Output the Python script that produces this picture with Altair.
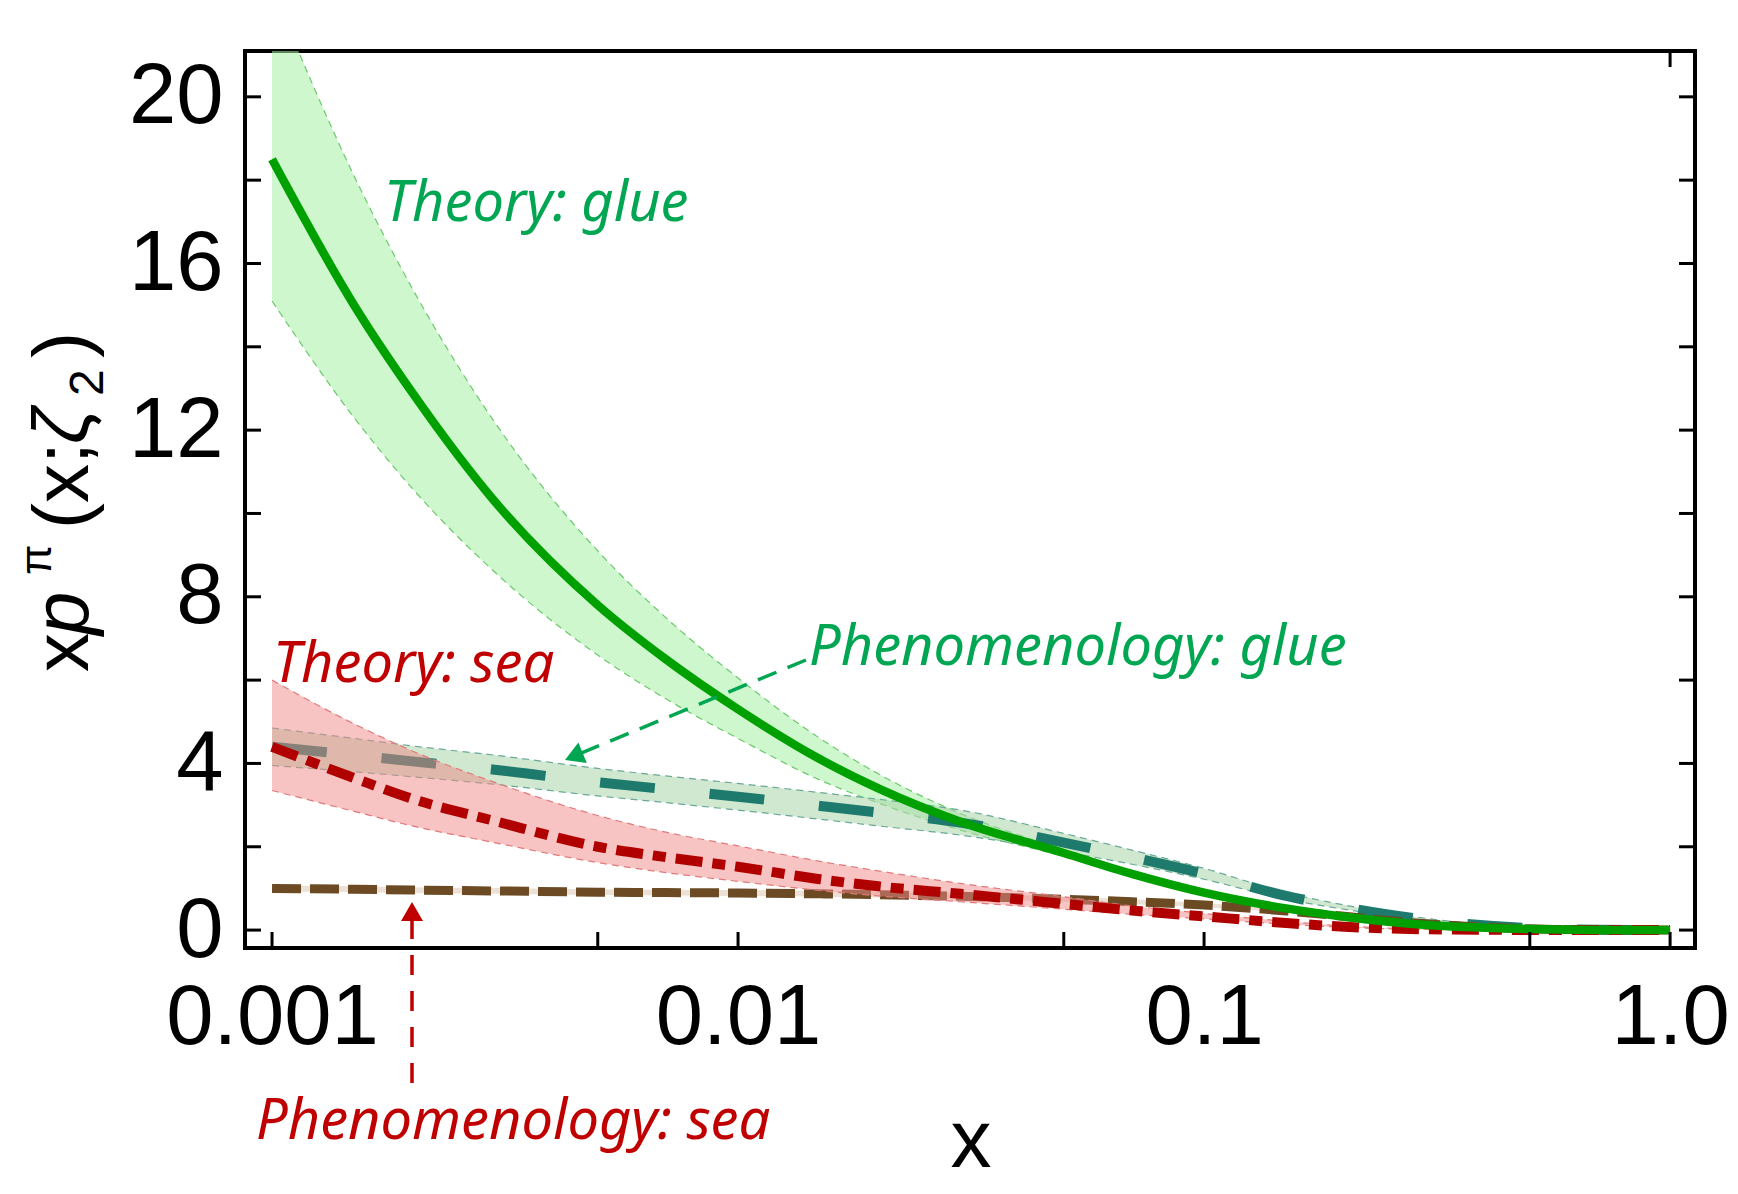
import altair as alt
import pandas as pd

# ---------------- data ----------------
x_grid = [0.001, 0.0015, 0.002, 0.003, 0.005, 0.007, 0.01, 0.015, 0.02, 0.03,
          0.05, 0.07, 0.1, 0.15, 0.2, 0.3, 0.5, 0.7, 1.0]

theory_glue = [18.5, 15.0, 12.9, 10.3, 7.8, 6.5, 5.3, 4.1, 3.4, 2.6,
               1.85, 1.35, 0.9, 0.52, 0.32, 0.12, 0.025, 0.004, 0.0]
theory_glue_hi = [22.6, 18.1, 15.4, 12.2, 9.1, 7.5, 6.05, 4.6, 3.75, 2.8,
                  1.93, 1.41, 0.95, 0.55, 0.34, 0.13, 0.027, 0.005, 0.0]
theory_glue_lo = [15.1, 12.3, 10.6, 8.6, 6.6, 5.55, 4.6, 3.6, 3.05, 2.4,
                  1.77, 1.29, 0.86, 0.49, 0.30, 0.11, 0.023, 0.003, 0.0]

pheno_glue = [4.4, 4.2, 4.05, 3.85, 3.55, 3.38, 3.2, 2.98, 2.82, 2.58,
              2.1, 1.75, 1.35, 0.82, 0.55, 0.25, 0.05, 0.01, 0.0]
pheno_glue_hi = [4.85, 4.6, 4.42, 4.2, 3.88, 3.7, 3.52, 3.3, 3.14, 2.88,
                 2.32, 1.92, 1.48, 0.9, 0.6, 0.28, 0.06, 0.012, 0.0]
pheno_glue_lo = [3.95, 3.8, 3.68, 3.5, 3.22, 3.06, 2.88, 2.66, 2.5, 2.28,
                 1.88, 1.58, 1.22, 0.74, 0.5, 0.22, 0.04, 0.008, 0.0]

theory_sea = [4.4, 3.65, 3.15, 2.62, 2.0, 1.75, 1.52, 1.22, 1.05, 0.87,
              0.63, 0.47, 0.33, 0.17, 0.08, 0.02, 0.003, 0.0, 0.0]
theory_sea_hi = [6.0, 4.95, 4.3, 3.55, 2.75, 2.35, 2.02, 1.65, 1.42, 1.12,
                 0.8, 0.58, 0.4, 0.21, 0.1, 0.025, 0.004, 0.0, 0.0]
theory_sea_lo = [3.35, 2.85, 2.5, 2.1, 1.62, 1.38, 1.17, 0.95, 0.82, 0.68,
                 0.5, 0.38, 0.27, 0.14, 0.065, 0.015, 0.002, 0.0, 0.0]

pheno_sea = [1.0, 0.98, 0.96, 0.94, 0.91, 0.9, 0.89, 0.87, 0.85, 0.81,
             0.74, 0.68, 0.6, 0.46, 0.33, 0.15, 0.03, 0.005, 0.0]
pheno_sea_hi = [1.07, 1.05, 1.03, 1.01, 0.98, 0.97, 0.96, 0.94, 0.92, 0.88,
                0.8, 0.74, 0.65, 0.5, 0.36, 0.17, 0.035, 0.006, 0.0]
pheno_sea_lo = [0.93, 0.91, 0.89, 0.87, 0.84, 0.83, 0.82, 0.8, 0.78, 0.74,
                0.68, 0.62, 0.55, 0.42, 0.3, 0.13, 0.025, 0.004, 0.0]

x_tick_bottom = [0.001, 0.005, 0.01, 0.05, 0.1, 0.5, 1.0]
x_tick_top = [1.0]
y_ticks = [0, 2, 4, 6, 8, 10, 12, 14, 16, 18, 20]
x_label_values = [0.001, 0.01, 0.1, 1.0]
y_label_values = [0, 4, 8, 12, 16, 20]


def frame(y, lo, hi):
    return pd.DataFrame({"x": x_grid, "y": y, "lo": lo, "hi": hi})


df_tg = frame(theory_glue, theory_glue_lo, theory_glue_hi)
df_pg = frame(pheno_glue, pheno_glue_lo, pheno_glue_hi)
df_ts = frame(theory_sea, theory_sea_lo, theory_sea_hi)
df_ps = frame(pheno_sea, pheno_sea_lo, pheno_sea_hi)

# ---------------- scales / axes ----------------
W, H = 1450, 897
FONT = "Liberation Sans"
ANN_FONT = "Noto Sans"

xscale = alt.Scale(type="log", domain=[0.000875, 1.131], nice=False)
yscale = alt.Scale(domain=[-0.43, 21.1], nice=False, zero=False)

xaxis = alt.Axis(values=x_label_values, format="~g",
                 labelExpr="datum.value >= 1 ? '1.0' : datum.label",
                 title=None, grid=False, ticks=False, tickSize=0, domain=False,
                 labelFont=FONT, labelFontSize=85, labelColor="black",
                 labelPadding=28, labelOverlap=False, labelBound=False,
                 labelFlush=False, labelLimit=0)
yaxis = alt.Axis(values=y_label_values, title=None, grid=False, ticks=False,
                 tickSize=0, domain=False, labelFont=FONT, labelFontSize=85,
                 labelColor="black", labelPadding=22, labelOverlap=False,
                 labelBound=False, labelFlush=False, labelLimit=0)


def X(f):
    return alt.X(f"{f}:Q", scale=xscale, axis=xaxis)


def Y(f):
    return alt.Y(f"{f}:Q", scale=yscale, axis=yaxis)


def band(df, fill, alpha, edge):
    area = alt.Chart(df).mark_area(color=fill, opacity=alpha,
                                   clip=True, interpolate="monotone").encode(
        x=X("x"), y=Y("lo"), y2=alt.Y2("hi"))
    e1 = alt.Chart(df).mark_line(color=edge, strokeWidth=1.2, strokeDash=[7, 5],
                                 clip=True, interpolate="monotone").encode(
        x=X("x"), y=Y("hi"))
    e2 = alt.Chart(df).mark_line(color=edge, strokeWidth=1.2, strokeDash=[7, 5],
                                 clip=True, interpolate="monotone").encode(
        x=X("x"), y=Y("lo"))
    return [area, e1, e2]


def curve(df, color, width, dash=None):
    kw = dict(color=color, strokeWidth=width, clip=True,
              interpolate="monotone", strokeCap="butt")
    if dash:
        kw["strokeDash"] = dash
    return alt.Chart(df).mark_line(**kw).encode(x=X("x"), y=Y("y"))


layers = []
layers += band(df_tg, "#a5f0a5", 0.55, "#6cc86c")
layers += band(df_pg, "#a8d6a8", 0.55, "#6aa898")
layers.append(alt.Chart(df_ps).mark_area(color="#d9c4ad", opacity=0.5,
                                         clip=True, interpolate="monotone").encode(
    x=X("x"), y=Y("lo"), y2=alt.Y2("hi")))
layers.append(curve(df_pg, "#1d7a6c", 10, [55, 55]))
layers.append(curve(df_ps, "#6b4a24", 9, [29, 9]))
layers += band(df_ts, "#f28888", 0.5, "#e07a7a")
layers.append(curve(df_ts, "#b00000", 10, [27, 10, 13, 10]))
layers.append(curve(df_tg, "#00a000", 8.5))

# ---------------- inward ticks ----------------
tb = pd.DataFrame({"t": x_tick_bottom})
tt = pd.DataFrame({"t": x_tick_top})
ty = pd.DataFrame({"t": y_ticks})
TL = 16
layers.append(alt.Chart(tb).mark_rule(color="black", strokeWidth=3).encode(
    x=X("t"), y=alt.value(H - TL), y2=alt.value(H)))
layers.append(alt.Chart(tt).mark_rule(color="black", strokeWidth=3).encode(
    x=X("t"), y=alt.value(0), y2=alt.value(TL)))
layers.append(alt.Chart(ty).mark_rule(color="black", strokeWidth=3).encode(
    y=Y("t"), x=alt.value(0), x2=alt.value(TL)))
layers.append(alt.Chart(ty).mark_rule(color="black", strokeWidth=3).encode(
    y=Y("t"), x=alt.value(W - TL), x2=alt.value(W)))


# ---------------- texts ----------------
def text(label, x, y, size, color="black", style="normal", font=FONT,
         angle=0, align="left"):
    d = pd.DataFrame({"label": [label]})
    return alt.Chart(d).mark_text(align=align, baseline="alphabetic",
                                  font=font, fontSize=size, fontStyle=style,
                                  color=color, angle=angle).encode(
        x=alt.value(x), y=alt.value(y), text=alt.Text("label:N"))


GREEN_T = "#00a651"
RED_T = "#c00000"
layers.append(text("Theory: glue", 139, 170, 56, GREEN_T, "italic", ANN_FONT))
layers.append(text("Theory: sea", 28, 631, 56, RED_T, "italic", ANN_FONT))
layers.append(text("Phenomenology: glue", 564, 614, 56, GREEN_T, "italic", ANN_FONT))
layers.append(text("Phenomenology: sea", 11, 1088, 56, RED_T, "italic", ANN_FONT))

# axis titles
layers.append(text("x", 726, 1116, 82, align="center"))
layers.append(text("x", -157, 621, 78, angle=270))
layers.append(text("p", -157, 584, 78, style="italic", angle=270))
layers.append(text("π", -194, 524, 44, angle=270))
layers.append(text("(x;", -157, 478, 78, angle=270))
layers.append(text("ζ", -157, 393, 78, style="italic", angle=270))
layers.append(text("2", -142, 345, 48, angle=270))
layers.append(text(")", -157, 307, 78, angle=270))

# ---------------- arrows ----------------
one = pd.DataFrame({"a": [0]})
layers.append(alt.Chart(one).mark_rule(color=GREEN_T, strokeWidth=3.5,
                                       strokeDash=[20, 12]).encode(
    x=alt.value(561), y=alt.value(609), x2=alt.value(334), y2=alt.value(703)))
layers.append(alt.Chart(one).mark_point(shape="triangle-up", filled=True,
                                        size=484, angle=247.5, color=GREEN_T,
                                        opacity=1).encode(
    x=alt.value(328.8), y=alt.value(705.4)))
layers.append(alt.Chart(one).mark_rule(color=RED_T, strokeWidth=3.5,
                                       strokeDash=[20, 16]).encode(
    x=alt.value(167), y=alt.value(868), x2=alt.value(167), y2=alt.value(1042)))
layers.append(alt.Chart(one).mark_point(shape="triangle-up", filled=True,
                                        size=484, angle=0, color=RED_T,
                                        opacity=1).encode(
    x=alt.value(167), y=alt.value(860.5)))

chart = alt.layer(*layers).properties(
    width=W, height=H,
    autosize=alt.AutoSizeParams(type="none"),
    padding={"left": 237, "top": 43, "right": 35, "bottom": 238},
    background="white",
).configure_view(stroke="black", strokeWidth=4)

chart.save("out.html", embed_options={"renderer": "svg", "actions": False})
